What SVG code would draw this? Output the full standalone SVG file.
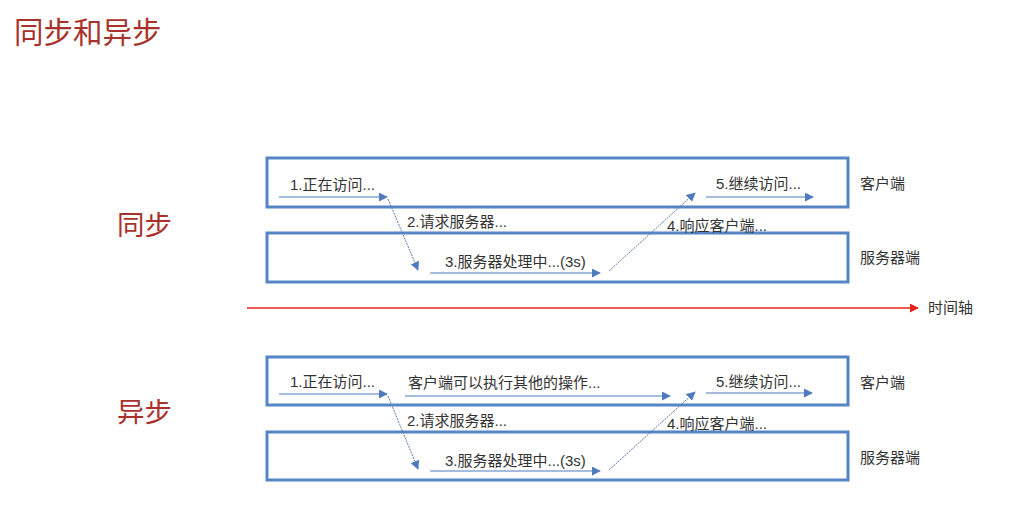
<svg xmlns="http://www.w3.org/2000/svg" width="1013" height="526" viewBox="0 0 1013 526">
<style>
.t{font-family:"Liberation Sans","Noto Sans CJK SC",sans-serif;font-size:15px;fill:#333}
.h{font-family:"Liberation Sans","Noto Sans CJK SC",sans-serif;fill:#a8322b}
.box{fill:none;stroke:#5585c5;stroke-width:3}
.a{stroke:#4f7abd;stroke-width:1.2;fill:none;marker-end:url(#ah)}
.d{stroke:#5a78b0;stroke-width:1;fill:none;stroke-dasharray:2 1;marker-end:url(#ah)}
</style>
<defs>
<marker id="ah" viewBox="0 0 10 10" refX="9" refY="5" markerWidth="9" markerHeight="9" markerUnits="userSpaceOnUse" orient="auto"><path d="M0,0L10,5L0,10z" fill="#4f7abd"/></marker>
<marker id="rh" viewBox="0 0 10 10" refX="9" refY="5" markerWidth="9" markerHeight="9" markerUnits="userSpaceOnUse" orient="auto"><path d="M0,0L10,5L0,10z" fill="#e8231a"/></marker>
</defs>
<rect width="1013" height="526" fill="#fff"/>
<text class="h" x="14" y="43" font-size="29.5">同步和异步</text>
<g id="sync">
<text class="h" x="117" y="235" font-size="27.5">同步</text>
<g id="sync-client"><rect class="box" x="267" y="158" width="581" height="49"/><text class="t" x="860" y="189">客户端</text></g>
<g id="sync-server"><rect class="box" x="267" y="233" width="581" height="49"/><text class="t" x="860" y="263">服务器端</text></g>
</g>
<g id="timeline">
<line x1="247" y1="308" x2="918" y2="308" stroke="#e8231a" stroke-width="1.3" marker-end="url(#rh)"/>
<text class="t" x="928" y="313">时间轴</text>
</g>
<g id="async">
<text class="h" x="117" y="422" font-size="27.5">异步</text>
<g id="async-client"><rect class="box" x="267" y="357" width="581" height="48"/><text class="t" x="860" y="388">客户端</text></g>
<g id="async-server"><rect class="box" x="267" y="432" width="581" height="48"/><text class="t" x="860" y="463">服务器端</text></g>
</g>
<g id="connectors">
<line class="a" x1="279" y1="197" x2="387" y2="197"/>
<line class="d" x1="388" y1="199" x2="418" y2="270"/>
<line class="a" x1="430" y1="273" x2="600" y2="273"/>
<line class="d" x1="609" y1="271" x2="695" y2="193"/>
<line class="a" x1="706" y1="197" x2="813" y2="197"/>
<line class="a" x1="279" y1="394" x2="387" y2="394"/>
<line class="a" x1="405" y1="396" x2="670" y2="396"/>
<line class="d" x1="388" y1="396" x2="418" y2="469"/>
<line class="a" x1="430" y1="471" x2="600" y2="471"/>
<line class="d" x1="609" y1="470" x2="695" y2="392"/>
<line class="a" x1="706" y1="393" x2="812" y2="393"/>
</g>
<g id="labels">
<text class="t" x="290" y="190">1.正在访问...</text>
<text class="t" x="407" y="227">2.请求服务器...</text>
<text class="t" x="445" y="267">3.服务器处理中...(3s)</text>
<text class="t" x="667" y="231">4.响应客户端...</text>
<text class="t" x="716" y="189">5.继续访问...</text>
<text class="t" x="290" y="387">1.正在访问...</text>
<text class="t" x="408" y="388" font-size="16">客户端可以执行其他的操作...</text>
<text class="t" x="407" y="426">2.请求服务器...</text>
<text class="t" x="445" y="466">3.服务器处理中...(3s)</text>
<text class="t" x="667" y="429">4.响应客户端...</text>
<text class="t" x="716" y="387">5.继续访问...</text>
</g>
</svg>
